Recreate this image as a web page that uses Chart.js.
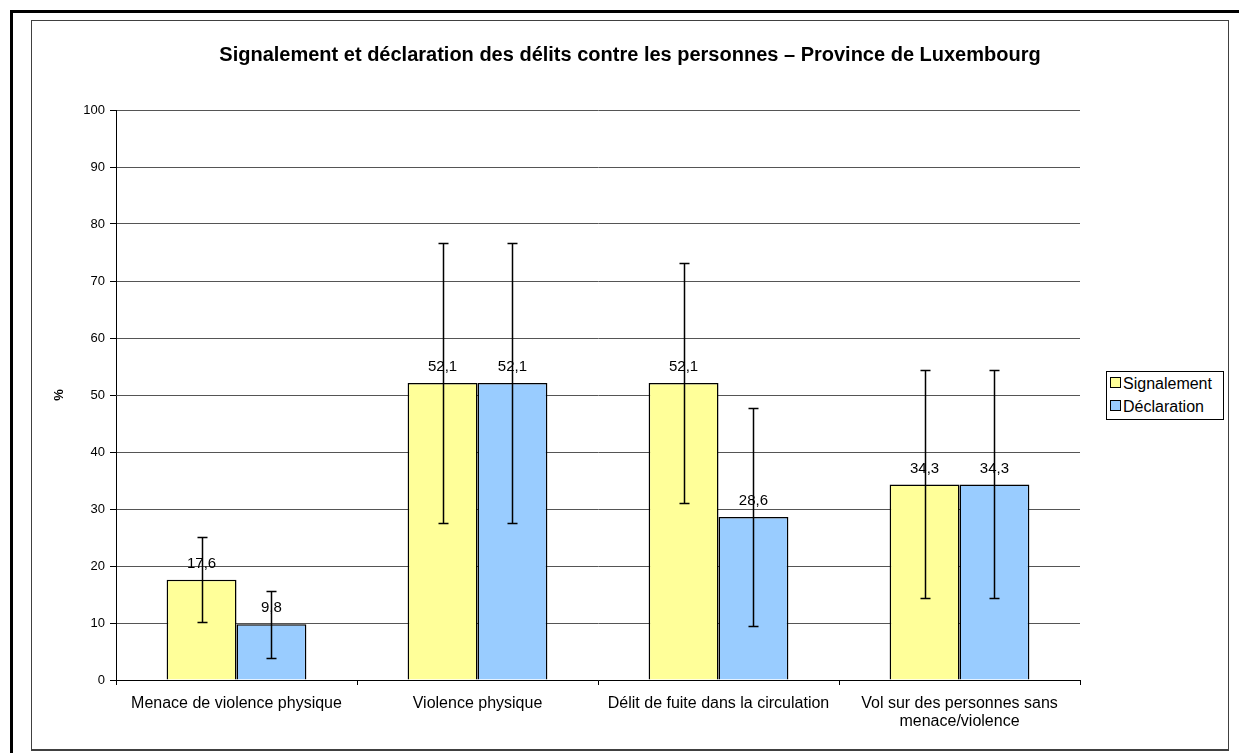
<!DOCTYPE html>
<html>
<head>
<meta charset="utf-8">
<script src="https://cdn.jsdelivr.net/npm/chart.js@4/dist/chart.umd.min.js"></script>
<style>
  body { margin: 0; background: #fff; width: 1239px; height: 753px; overflow: hidden; position: relative; font-family: "Liberation Sans", Arial, sans-serif; }
  #outer { position: absolute; left: 10px; top: 10px; width: 1300px; height: 800px; border-left: 3px solid #000; border-top: 3px solid #000; }
  #frame { position: absolute; left: 31px; top: 20px; width: 1196px; height: 728px; border: 1px solid #404040; border-bottom-width: 2px; background: #fff; }
  #chart { position: absolute; left: 0; top: 0; }
  #legend { position: absolute; left: 1106px; top: 371px; width: 118px; height: 49px; border: 1px solid #000; background: #fff; font-size: 16px; color: #000; box-sizing: border-box; padding-top: 0px; }
  #legend div { height: 23px; line-height: 23px; white-space: nowrap; padding-left: 3px; }
  #legend span { display: inline-block; width: 9px; height: 9px; border: 1px solid #000; margin-right: 2px; vertical-align: 1px; }
</style>
</head>
<body>
<div id="outer"></div>
<div id="frame"><canvas id="chart" width="1196" height="728"></canvas></div>
<div id="legend"></div>
<script>
// données
const categories = [
    'Menace de violence physique',
    'Violence physique',
    'Délit de fuite dans la circulation',
    ['Vol sur des personnes sans', 'menace/violence']
];
const seriesNames = ['Signalement', 'Déclaration'];
const signalement = [17.6, 52.1, 52.1, 34.3];
const declaration = [9.8, 52.1, 28.6, 34.3];
// marges d'erreur (+/-)
const signalementErr = [7.5, 24.5, 21.0, 20.0];
const declarationErr = [5.9, 24.5, 19.1, 20.0];
const yTicks = [0, 10, 20, 30, 40, 50, 60, 70, 80, 90, 100];
const titleText = 'Signalement et déclaration des délits contre les personnes – Province de Luxembourg';

const colors = ['#FFFF99', '#99CCFF'];
const errors = [signalementErr, declarationErr];
const FONT = '"Liberation Sans", Arial, sans-serif';

// légende HTML
const legendEl = document.getElementById('legend');
seriesNames.forEach((name, i) => {
    const row = document.createElement('div');
    row.innerHTML = '<span style="background:' + colors[i] + '"></span>' + name;
    legendEl.appendChild(row);
});

// barres d'erreur + étiquettes de valeurs
const errorBarsPlugin = {
    id: 'errorBars',
    afterDatasetsDraw(chart) {
        const ctx = chart.ctx;
        const yScale = chart.scales.y;
        ctx.save();
        chart.data.datasets.forEach((ds, di) => {
            const meta = chart.getDatasetMeta(di);
            meta.data.forEach((bar, i) => {
                const v = ds.data[i];
                const e = errors[di][i];
                const top = Math.round(yScale.getPixelForValue(v + e)) + 0.5;
                const bot = Math.round(yScale.getPixelForValue(v - e)) + 0.5;
                const x = Math.round(bar.x) + 0.5;
                ctx.strokeStyle = '#000';
                ctx.lineWidth = 1.5;
                ctx.beginPath();
                ctx.moveTo(x, top); ctx.lineTo(x, bot);
                ctx.moveTo(x - 5, top); ctx.lineTo(x + 5, top);
                ctx.moveTo(x - 5, bot); ctx.lineTo(x + 5, bot);
                ctx.stroke();
            });
        });
        ctx.font = '15px ' + FONT;
        ctx.fillStyle = '#000';
        ctx.textAlign = 'center';
        ctx.textBaseline = 'middle';
        chart.data.datasets.forEach((ds, di) => {
            const meta = chart.getDatasetMeta(di);
            meta.data.forEach((bar, i) => {
                ctx.fillText(String(ds.data[i]).replace('.', ','), bar.x, bar.y - 16);
            });
        });
        ctx.restore();
    }
};

const ctx = document.getElementById('chart').getContext('2d');
new Chart(ctx, {
    type: 'bar',
    data: {
        labels: categories,
        datasets: [
            {
                label: seriesNames[0],
                data: signalement,
                backgroundColor: colors[0],
                borderColor: '#000',
                borderWidth: 1.5
            },
            {
                label: seriesNames[1],
                data: declaration,
                backgroundColor: colors[1],
                borderColor: '#000',
                borderWidth: 1.5
            }
        ]
    },
    options: {
        responsive: false,
        animation: false,
        layout: { padding: 0 },
        categoryPercentage: 0.58,
        barPercentage: 1.0,
        plugins: {
            legend: { display: false },
            tooltip: { enabled: false },
            title: {
                display: true,
                text: titleText,
                color: '#000',
                font: { family: FONT, size: 20, weight: 'bold' },
                padding: { top: 22, bottom: 43 }
            }
        },
        scales: {
            x: {
                afterFit(scale) { scale.height = 69; },
                grid: {
                    display: true,
                    drawOnChartArea: false,
                    drawTicks: true,
                    tickLength: 5,
                    color: '#000',
                    offset: true
                },
                border: { display: true, color: '#000', width: 1 },
                ticks: {
                    color: '#000',
                    padding: 9,
                    maxRotation: 0,
                    autoSkip: false,
                    font: { family: FONT, size: 16, lineHeight: 1.15 }
                }
            },
            y: {
                min: 0,
                max: 100,
                afterFit(scale) { scale.width = 84; },
                afterBuildTicks(scale) { scale.ticks = yTicks.map(v => ({ value: v })); },
                grid: {
                    color: '#555',
                    tickColor: '#000',
                    tickLength: 6,
                    lineWidth: 1
                },
                border: { display: true, color: '#000', width: 1 },
                ticks: {
                    color: '#000',
                    padding: 5,
                    font: { family: FONT, size: 13 }
                },
                title: {
                    display: true,
                    text: '%',
                    color: '#000',
                    font: { family: FONT, size: 13, weight: 'bold' },
                    padding: { top: 20, bottom: 0 }
                }
            },
            // espace réservé à droite pour la légende
            right: {
                position: 'right',
                display: true,
                afterFit(scale) { scale.width = 148; },
                grid: { display: false },
                border: { display: false },
                ticks: { display: false }
            }
        }
    },
    plugins: [errorBarsPlugin]
});
</script>
</body>
</html>
